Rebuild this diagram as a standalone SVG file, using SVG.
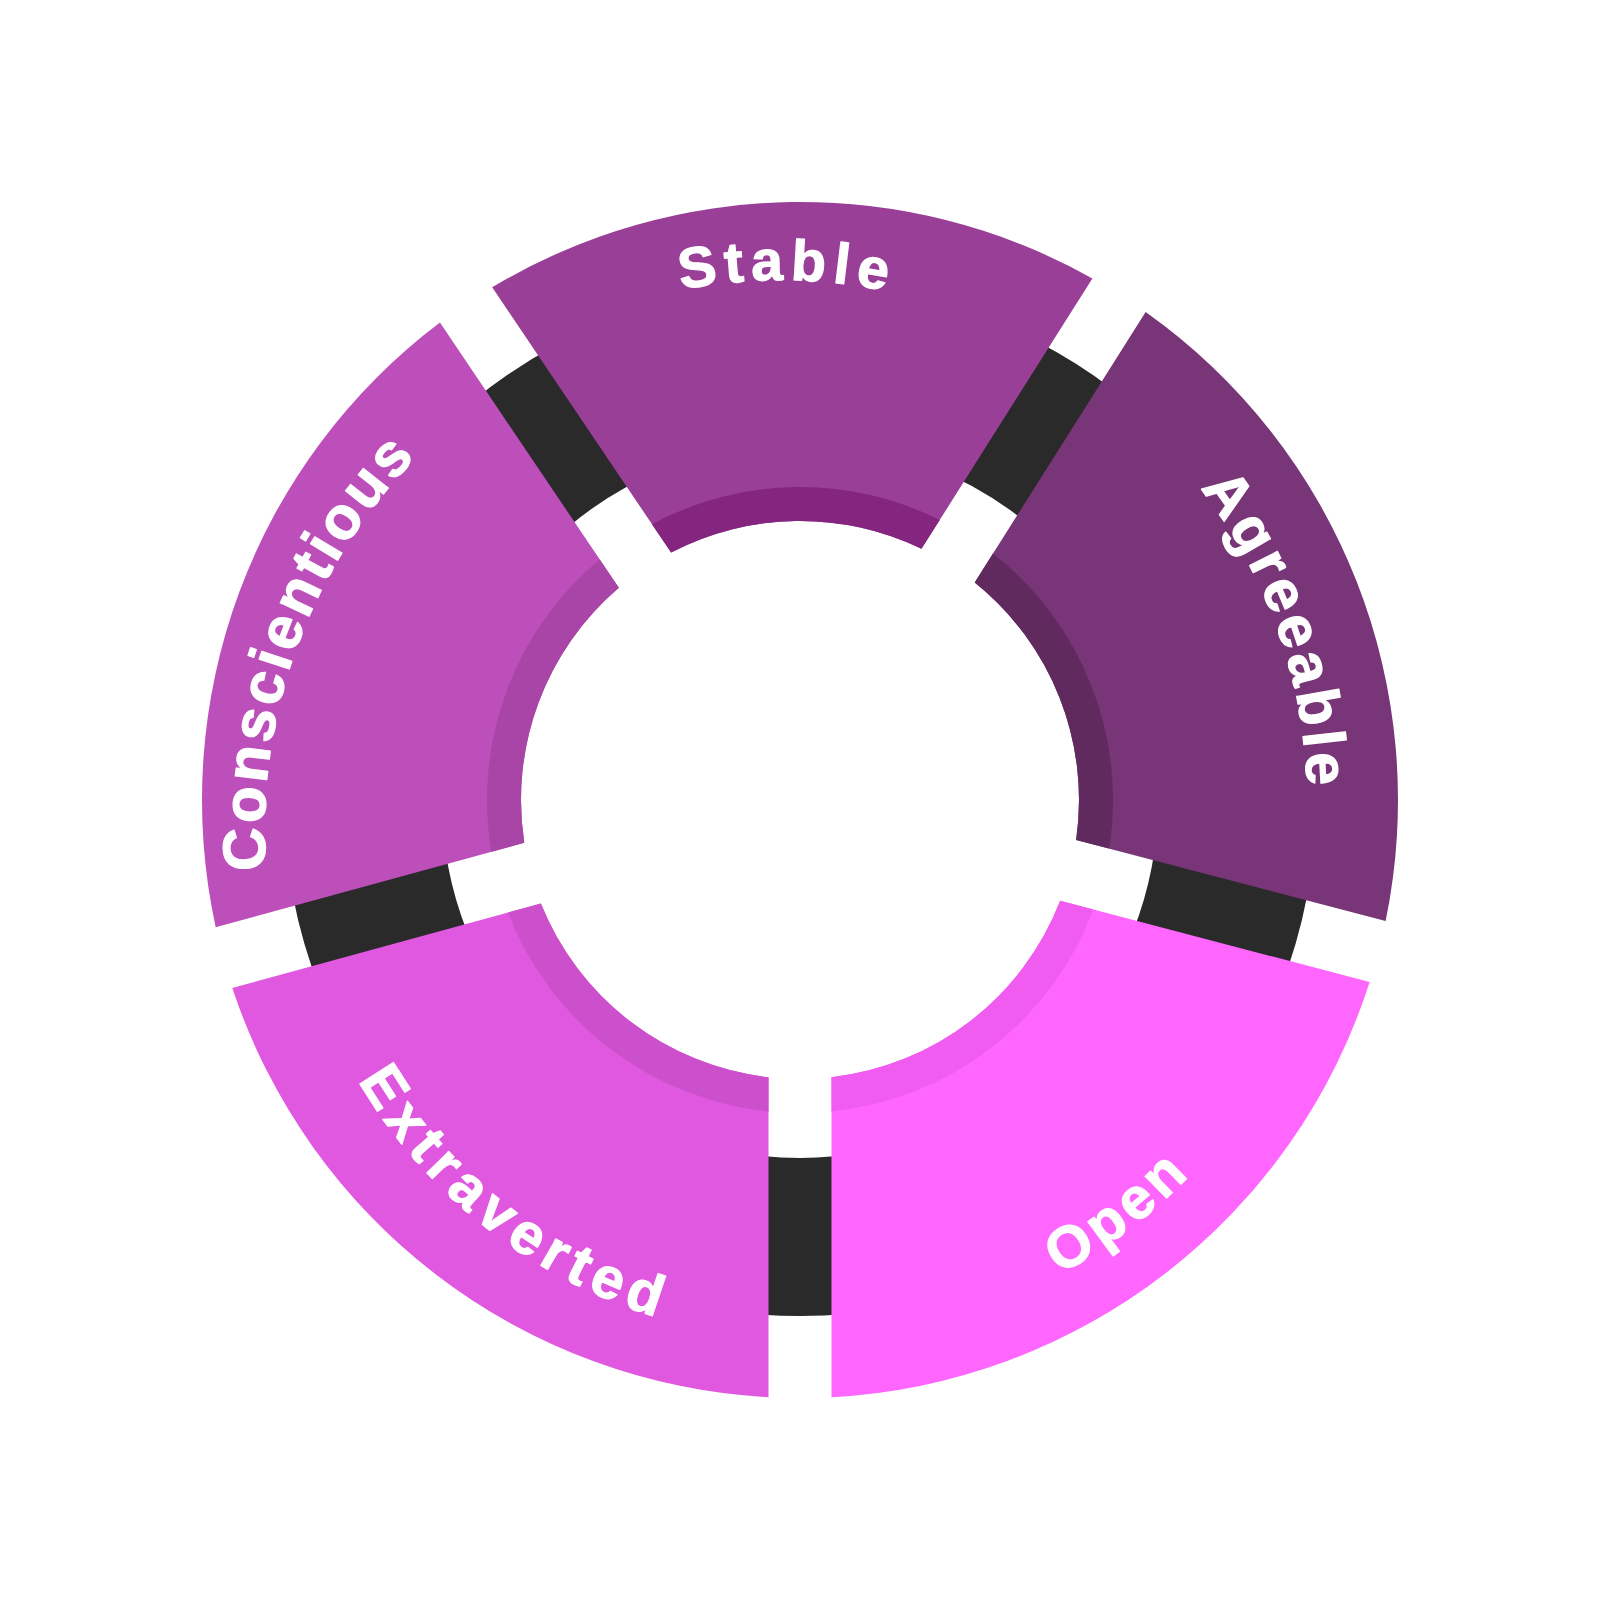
<svg xmlns="http://www.w3.org/2000/svg" xmlns:xlink="http://www.w3.org/1999/xlink" width="1600" height="1600" viewBox="0 0 1600 1600">
  <style>
    .lbl { font-family: "Liberation Sans", Arimo, Arial, sans-serif; font-weight: 700; fill: #ffffff; stroke: #ffffff; stroke-width: 1.2; stroke-linejoin: round; }
    .ring { fill: none; stroke: #2a2a2a; stroke-width: 158; }
  </style>
  <defs>
    <path id="p-stable" d="M 341.72 554.27 A 520 520 0 0 1 1241.94 525.98"/>
    <path id="p-consc" d="M 403.91 1156.65 A 533 533 0 0 1 689.18 278.65"/>
    <path id="p-agree" d="M 892.40 301.49 A 507 507 0 0 1 1185.53 1129.27"/>
    <path id="p-extra" d="M 278.73 746.59 A 524 524 0 0 0 1014.37 1278.14"/>
    <path id="p-open" d="M 593.84 1300.18 A 541 541 0 0 0 1336.25 728.45"/>
  </defs>
  <rect width="1600" height="1600" fill="#ffffff"/>

  <g id="connectors">
    <circle class="ring" cx="800" cy="800" r="437"/>
  </g>

  <g id="node-stable">
    <path fill="#9a3f98" d="M 492.19 287.31 A 598 598 0 0 1 1092.38 278.41 L 921.46 548.85 A 279 279 0 0 0 671.10 552.56 Z"/>
    <path fill="#84267f" d="M 651.98 524.22 A 313 313 0 0 1 939.72 519.95 L 921.46 548.85 A 279 279 0 0 0 671.10 552.56 Z"/>
    <text class="lbl" font-size="57" letter-spacing="7" transform="translate(4 0) rotate(2.5 785 268)"><textPath href="#p-stable" xlink:href="#p-stable" startOffset="50%" text-anchor="middle">Stable</textPath></text>
  </g>

  <g id="node-agreeable">
    <path fill="#783577" d="M 1145.64 312.07 A 598 598 0 0 1 1385.62 921.07 L 1076.14 839.88 A 279 279 0 0 0 974.72 582.51 Z"/>
    <path fill="#602a5e" d="M 992.98 553.61 A 313 313 0 0 1 1109.21 848.55 L 1076.14 839.88 A 279 279 0 0 0 974.72 582.51 Z"/>
    <text class="lbl" font-size="59" letter-spacing="4.5"><textPath href="#p-agree" xlink:href="#p-agree" startOffset="50%" text-anchor="middle">Agreeable</textPath></text>
  </g>

  <g id="node-open">
    <path fill="#ff66fe" d="M 1369.64 982.01 A 598 598 0 0 1 831.5 1397.17 L 831.5 1077.22 A 279 279 0 0 0 1060.16 900.82 Z"/>
    <path fill="#f05cef" d="M 1093.23 909.49 A 313 313 0 0 1 831.5 1111.41 L 831.5 1077.22 A 279 279 0 0 0 1060.16 900.82 Z"/>
    <text class="lbl" font-size="58" letter-spacing="5"><textPath href="#p-open" xlink:href="#p-open" startOffset="50%" text-anchor="middle">Open</textPath></text>
  </g>

  <g id="node-extraverted">
    <path fill="#e058df" d="M 768.5 1397.17 A 598 598 0 0 1 232.30 987.96 L 540.91 903.53 A 279 279 0 0 0 768.5 1077.22 Z"/>
    <path fill="#cc50cc" d="M 768.5 1111.41 A 313 313 0 0 1 507.94 912.55 L 540.91 903.53 A 279 279 0 0 0 768.5 1077.22 Z"/>
    <text class="lbl" font-size="58" letter-spacing="7" transform="rotate(2.2 383 1087)"><textPath href="#p-extra" xlink:href="#p-extra" startOffset="50%" text-anchor="middle">Extraverted</textPath></text>
  </g>

  <g id="node-conscientious">
    <path fill="#bd4fbb" d="M 215.68 927.20 A 598 598 0 0 1 439.95 322.53 L 618.86 587.78 A 279 279 0 0 0 524.29 842.77 Z"/>
    <path fill="#a845a6" d="M 491.32 851.79 A 313 313 0 0 1 599.74 559.44 L 618.86 587.78 A 279 279 0 0 0 524.29 842.77 Z"/>
    <text class="lbl" font-size="60" letter-spacing="3.2" transform="rotate(1.6 245 848) translate(-3 14)"><textPath href="#p-consc" xlink:href="#p-consc" startOffset="50.4%" text-anchor="middle">Conscientious</textPath></text>
  </g>
</svg>
